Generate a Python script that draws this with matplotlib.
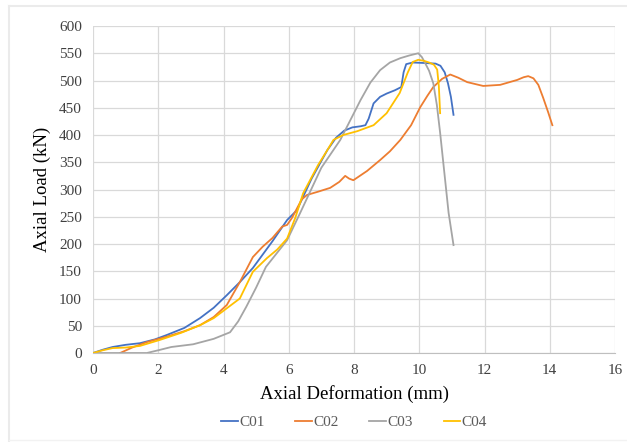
import numpy as np
import matplotlib.pyplot as plt
from matplotlib.lines import Line2D

# curvas carga x deformação
c01_x = [0, 0.3, 0.6, 1.0, 1.44, 1.9, 2.26, 2.8, 3.28, 3.7, 4.1, 4.5, 4.9, 5.5, 5.95, 6.25, 6.7, 7.18, 7.45, 7.7, 7.95, 8.2, 8.35, 8.45, 8.6, 8.8, 9.0, 9.25, 9.45, 9.52, 9.6, 9.8, 10.2, 10.5, 10.65, 10.78, 10.88, 10.97, 11.05]
c01_y = [0, 6, 11, 15, 18, 25, 33, 46, 64, 83, 106, 130, 156, 205, 244, 262, 320, 372, 395, 408, 414, 416, 418, 430, 458, 470, 476, 482, 488, 515, 530, 533, 532, 531, 527, 515, 495, 470, 437]

c02_x = [0.83, 1.2, 1.65, 2.26, 2.8, 3.28, 3.7, 4.1, 4.5, 4.9, 5.2, 5.5, 5.8, 5.95, 6.1, 6.4, 6.56, 6.9, 7.27, 7.55, 7.73, 7.85, 7.98, 8.4, 8.8, 9.1, 9.42, 9.75, 10.03, 10.25, 10.43, 10.7, 10.95, 11.2, 11.47, 11.96, 12.48, 13.0, 13.2, 13.34, 13.5, 13.65, 13.8, 13.95, 14.08]
c02_y = [0, 10, 20, 30, 40, 51, 66, 88, 130, 176, 195, 211, 232, 235, 248, 282, 290, 296, 303, 314, 325, 320, 317, 334, 354, 370, 391, 418, 451, 472, 488, 503, 511, 505, 497, 490, 492, 501, 506, 508, 504, 492, 468, 442, 418]

c03_x = [0, 1.65, 2.0, 2.4, 3.07, 3.7, 4.2, 4.45, 4.7, 5.0, 5.3, 5.95, 6.35, 7.0, 7.58, 8.2, 8.5, 8.8, 9.1, 9.42, 9.7, 9.97, 10.08, 10.18, 10.3, 10.43, 10.54, 10.64, 10.9, 11.05]
c03_y = [0, 0, 5, 11, 16, 26, 38, 58, 85, 120, 158, 207, 257, 340, 391, 464, 496, 519, 533, 541, 546, 550, 543, 532, 518, 495, 455, 404, 257, 198]

c04_x = [0, 0.3, 0.6, 1.0, 1.44, 2.05, 2.7, 3.28, 3.7, 4.1, 4.5, 4.9, 5.33, 5.65, 5.95, 6.2, 6.44, 6.9, 7.18, 7.37, 7.67, 8.1, 8.6, 9.0, 9.4, 9.65, 9.8, 9.97, 10.15, 10.3, 10.45, 10.55, 10.6, 10.64]
c04_y = [0, 5, 9, 10, 13, 24, 37, 51, 64, 82, 100, 149, 174, 190, 210, 248, 293, 345, 372, 391, 400, 407, 418, 440, 477, 515, 534, 538, 536, 533, 529, 520, 490, 440]

series = [("C01", c01_x, c01_y, "#4472C4"),
          ("C02", c02_x, c02_y, "#ED7D31"),
          ("C03", c03_x, c03_y, "#A5A5A5"),
          ("C04", c04_x, c04_y, "#FFC000")]

plt.rcParams["font.family"] = ["Liberation Serif", "DejaVu Serif"]

fig = plt.figure(figsize=(6.27, 4.42), dpi=100)
# moldura clara do gráfico (só topo e esquerda aparecem no recorte)
fig.lines.append(Line2D([9 / 627, 1], [1 - 6 / 442] * 2, transform=fig.transFigure, color="#ebebeb", lw=1.5))
fig.lines.append(Line2D([9 / 627] * 2, [1 - 6 / 442, 0], transform=fig.transFigure, color="#ebebeb", lw=1.5))
fig.lines.append(Line2D([9 / 627, 1], [2 / 442] * 2, transform=fig.transFigure, color="#f2f2f2", lw=1.0))

ax = fig.add_axes([93 / 627, 1 - 353 / 442, 522 / 627, 327 / 442])

for name, xs, ys, col in series:
    ax.plot(xs, ys, color=col, linewidth=1.3, label=name)

ax.set_xlim(0, 16)
ax.set_ylim(0, 600)
ax.set_xticks(np.arange(0, 17, 2))
ax.set_yticks(np.arange(0, 601, 50))
ax.grid(True, color="#d9d9d9", linewidth=0.9)
ax.set_axisbelow(True)
for s in ["top", "right", "left"]:
    ax.spines[s].set_visible(False)
ax.spines["bottom"].set_color("#bfbfbf")
ax.tick_params(length=0, labelsize=11, colors="#404040", pad=8)
ax.set_xlabel("Axial Deformation (mm)", fontsize=13.5, labelpad=6)
ax.set_ylabel("Axial Load (kN)", fontsize=13.5, labelpad=6)

ax.legend(loc="upper center", bbox_to_anchor=(0.5, -0.15), ncol=4, frameon=False,
          fontsize=11, handlelength=1.1, handletextpad=0.1, columnspacing=2.0,
          labelcolor="#595959")

fig.savefig("out.png", dpi=100)
